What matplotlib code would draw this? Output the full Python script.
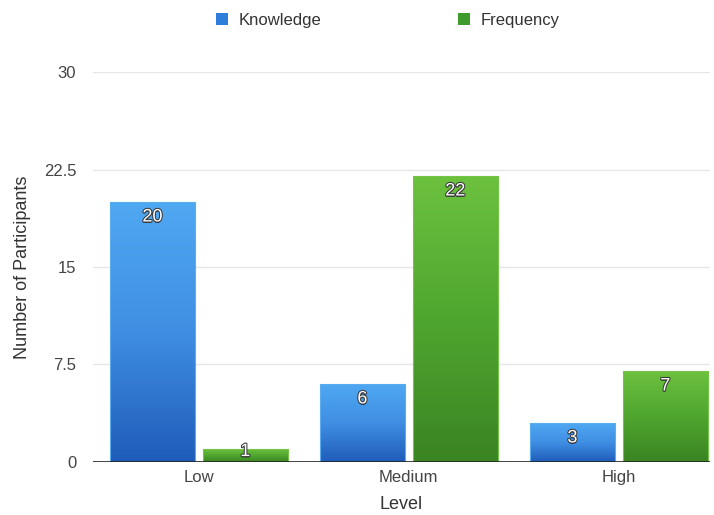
import matplotlib.pyplot as plt
import matplotlib.patheffects as pe
from matplotlib.colors import LinearSegmentedColormap
import numpy as np

plt.rcParams['font.family'] = ['Liberation Sans', 'DejaVu Sans']

levels = ['Low', 'Medium', 'High']
knowledge = [20, 6, 3]
frequency = [1, 22, 7]
series_names = ['Knowledge', 'Frequency']
yticks = [0, 7.5, 15, 22.5, 30]
ytick_labels = ['0', '7.5', '15', '22.5', '30']

# bottom -> top gradient colours for each series
blue_grad = LinearSegmentedColormap.from_list('blue_grad', ['#1f5cb9', '#3f8ee3', '#4fa8f2'])
green_grad = LinearSegmentedColormap.from_list('green_grad', ['#3a8423', '#4fa62f', '#6cc13e'])


def gradient_bars(ax, bars, cmap):
    grad = np.linspace(0, 1, 256).reshape(-1, 1)
    for b in bars:
        x0, y0 = b.get_x(), b.get_y()
        w, h = b.get_width(), b.get_height()
        im = ax.imshow(grad, extent=[x0, x0 + w, y0, y0 + h], origin='lower',
                       cmap=cmap, aspect='auto', zorder=2, interpolation='bilinear')
        im.set_clip_path(b)


def value_labels(ax, xs, vals):
    for x, v in zip(xs, vals):
        y = max(v - 1.15, 0.8)
        ax.text(x, y, str(v), ha='center', va='center', color='white',
                fontsize=13, zorder=5,
                path_effects=[pe.withSimplePatchShadow(offset=(0, -1), shadow_rgbFace='#222222', alpha=0.8),
                              pe.withStroke(linewidth=1.5, foreground='#3a3a3a')])


fig = plt.figure(figsize=(7.14, 5.15), dpi=100)
ax = fig.add_axes([0.130, 0.103, 0.864, 0.757])

x = np.arange(len(levels))
width = 0.405
off = 0.221

b1 = ax.bar(x - off, knowledge, width, facecolor='none', edgecolor='#5aaef0',
            linewidth=0.8, zorder=3)
b2 = ax.bar(x + off, frequency, width, facecolor='none', edgecolor='#74c447',
            linewidth=0.8, zorder=3)
gradient_bars(ax, b1, blue_grad)
gradient_bars(ax, b2, green_grad)
value_labels(ax, x - off, knowledge)
value_labels(ax, x + off, frequency)

ax.set_xlim(-0.505, 2.433)
ax.set_ylim(0, 30)
ax.set_yticks(yticks)
ax.set_yticklabels(ytick_labels)
ax.set_xticks(x)
ax.set_xticklabels(levels)
ax.tick_params(axis='both', length=0, labelsize=12, colors='#444444')
ax.tick_params(axis='y', pad=12)
ax.tick_params(axis='x', pad=6)

for yv in yticks[1:]:
    ax.axhline(yv, color='#e6e6e6', linewidth=1, zorder=1)
ax.axhline(0, color='#222222', linewidth=1.2, zorder=4)

for s in ax.spines.values():
    s.set_visible(False)

ax.set_xlabel('Level', fontsize=13, color='#333333', labelpad=8)
ax.set_ylabel('Number of Participants', fontsize=13, color='#333333', labelpad=9)

handles = [plt.Rectangle((0, 0), 1, 1, facecolor='#2e7ddb'),
           plt.Rectangle((0, 0), 1, 1, facecolor='#3f9a2c')]
fig.legend(handles, series_names, loc='center', bbox_to_anchor=(0.543, 0.961),
           ncol=2, frameon=False, fontsize=12, handlelength=0.7, handleheight=0.7,
           handletextpad=0.65, columnspacing=8.2, labelcolor='#333333', borderpad=0)

fig.savefig('out.png', dpi=100)
